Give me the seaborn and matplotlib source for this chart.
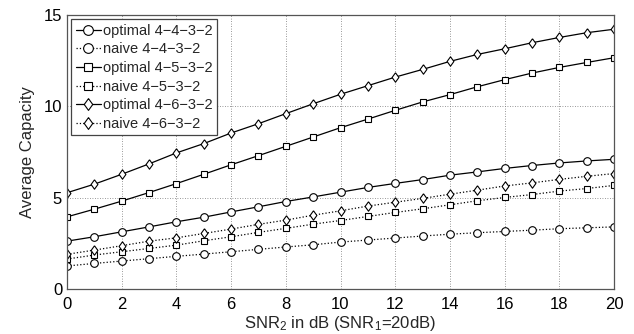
import numpy as np
import pandas as pd
import matplotlib
matplotlib.use("Agg")
import matplotlib.pyplot as plt
import seaborn as sns

snr2 = list(range(0, 21))

optimal_443 = [2.62, 2.86, 3.13, 3.40, 3.68, 3.93, 4.22, 4.50, 4.79, 5.04, 5.30,
               5.56, 5.78, 5.99, 6.23, 6.41, 6.60, 6.76, 6.90, 7.01, 7.10]
naive_443 = [1.26, 1.40, 1.53, 1.66, 1.79, 1.91, 2.04, 2.17, 2.30, 2.42, 2.57,
             2.68, 2.79, 2.90, 3.00, 3.08, 3.15, 3.22, 3.30, 3.35, 3.40]
optimal_453 = [3.95, 4.37, 4.81, 5.28, 5.77, 6.28, 6.80, 7.30, 7.81, 8.32, 8.83,
               9.30, 9.78, 10.24, 10.64, 11.07, 11.46, 11.82, 12.13, 12.40, 12.66]
naive_453 = [1.64, 1.86, 2.04, 2.22, 2.40, 2.64, 2.86, 3.10, 3.32, 3.55, 3.75,
             3.97, 4.19, 4.39, 4.61, 4.83, 5.01, 5.17, 5.36, 5.50, 5.67]
optimal_463 = [5.27, 5.74, 6.28, 6.85, 7.45, 7.96, 8.54, 9.05, 9.60, 10.14, 10.66,
               11.13, 11.60, 12.02, 12.46, 12.84, 13.15, 13.48, 13.77, 14.03, 14.22]
naive_463 = [1.90, 2.13, 2.37, 2.62, 2.80, 3.04, 3.28, 3.54, 3.77, 4.04, 4.28,
             4.54, 4.75, 4.96, 5.19, 5.41, 5.64, 5.81, 6.00, 6.17, 6.32]

labels = ["optimal 4\u22124\u22123\u22122", "naive 4\u22124\u22123\u22122",
          "optimal 4\u22125\u22123\u22122", "naive 4\u22125\u22123\u22122",
          "optimal 4\u22126\u22123\u22122", "naive 4\u22126\u22123\u22122"]
series = [optimal_443, naive_443, optimal_453, naive_453, optimal_463, naive_463]
diamond = [(0, 1), (0.72, 0), (0, -1), (-0.72, 0), (0, 1)]
markers = ["o", "o", "s", "s", diamond, diamond]
styles = ["-", ":", "-", ":", "-", ":"]
msizes = [5.5, 5.5, 4.0, 4.0, 6.8, 6.8]
leg_msizes = [7.0, 7.0, 6.0, 6.0, 8.5, 8.5]

sns.set_style("white")
plt.rcParams['font.family'] = ['Liberation Sans', 'DejaVu Sans']
plt.rcParams['mathtext.default'] = 'regular'

fig = plt.figure(figsize=(6.34, 3.34), dpi=100)
ax = fig.add_axes([67/634, 1 - 289/334, (614-67)/634, (289-15)/334])

for lab, ys, m, ls, ms in zip(labels, series, markers, styles, msizes):
    df = pd.DataFrame({"x": snr2, "y": ys})
    sns.lineplot(data=df, x="x", y="y", ax=ax, color="black", linestyle=ls,
                 linewidth=0.9, marker=m, markersize=ms,
                 markerfacecolor="white", markeredgecolor="black",
                 markeredgewidth=0.8, label=lab)

ax.set_xlim(0, 20)
ax.set_ylim(0, 15)
ax.set_xticks(range(0, 21, 2))
ax.set_yticks([0, 5, 10, 15])
ax.grid(True, color="#777777", linestyle=(0, (1, 2)), linewidth=0.6)
ax.tick_params(direction="in", labelsize=12, length=4, colors="black")
ax.tick_params(axis='x', pad=6)
for sp in ax.spines.values():
    sp.set_color("#555555")
    sp.set_linewidth(0.9)
ax.set_xlabel("SNR$_2$ in dB (SNR$_1$=20dB)", fontsize=12, labelpad=1)
ax.set_ylabel("Average Capacity", fontsize=12, labelpad=6)

leg = ax.legend(loc="upper left", fontsize=10.5, frameon=True, fancybox=False,
                edgecolor="#444444", framealpha=1, handlelength=1.7,
                handletextpad=0.15, borderpad=0.3, labelspacing=0.32,
                borderaxespad=0.3)
leg.get_frame().set_linewidth(0.9)
for h, s in zip(leg.legend_handles, leg_msizes):
    h.set_markersize(s)

fig.savefig("out.png", dpi=100)
